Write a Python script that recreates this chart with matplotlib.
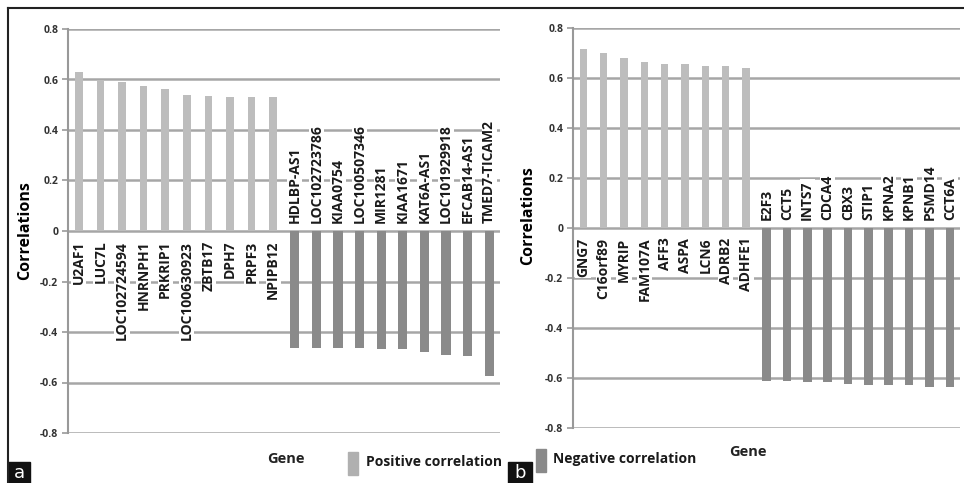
import matplotlib
matplotlib.use("Agg")
from matplotlib import pyplot as plt
from matplotlib.patches import Rectangle
from matplotlib.lines import Line2D

plt.rcParams["font.family"] = ["Open Sans", "DejaVu Sans"]

# Panel a: genes and correlation values
genes_a = [
    "U2AF1", "LUC7L", "LOC102724594", "HNRNPH1", "PRKRIP1", "LOC100630923",
    "ZBTB17", "DPH7", "PRPF3", "NPIPB12",
    "HDLBP-AS1", "LOC102723786", "KIAA0754", "LOC100507346", "MIR1281",
    "KIAA1671", "KAT6A-AS1", "LOC101929918", "EFCAB14-AS1", "TMED7-TICAM2",
]
corr_a = [
    0.63, 0.598, 0.59, 0.574, 0.561, 0.54, 0.535, 0.531, 0.530, 0.530,
    -0.463, -0.463, -0.463, -0.464, -0.468, -0.468, -0.481, -0.49, -0.495, -0.574,
]

# Panel b: genes and correlation values
genes_b = [
    "GNG7", "C16orf89", "MYRIP", "FAM107A", "AFF3", "ASPA", "LCN6", "ADRB2", "ADHFE1",
    "E2F3", "CCT5", "INTS7", "CDCA4", "CBX3", "STIP1", "KPNA2", "KPNB1", "PSMD14", "CCT6A",
]
corr_b = [
    0.717, 0.699, 0.68, 0.664, 0.654, 0.654, 0.646, 0.646, 0.641,
    -0.611, -0.611, -0.616, -0.616, -0.624, -0.629, -0.629, -0.629, -0.635, -0.635,
]

yticks = [0.8, 0.6, 0.4, 0.2, 0, -0.2, -0.4, -0.6, -0.8]

POS_COLOR = "#bdbdbd"
NEG_COLOR = "#8a8a8a"
GRID_COLOR = "#a6a6a6"

W, H = 964, 483
fig = plt.figure(figsize=(W / 100, H / 100), dpi=100)


def px_axes(x0, y0, x1, y1):
    # axes placed with pixel coordinates measured from the top-left corner
    return fig.add_axes([x0 / W, 1 - y1 / H, (x1 - x0) / W, (y1 - y0) / H])


def draw_panel(ax, genes, values):
    n = len(genes)
    xs = list(range(n))
    for x, v in zip(xs, values):
        if v >= 0:
            ax.bar(x, v, width=0.36, color=POS_COLOR, zorder=2)
            ax.annotate(genes[x], (x, 0), xytext=(0, -7), textcoords="offset points",
                        rotation=90, ha="center", va="top", fontsize=10,
                        fontweight="bold", color="#1a1a1a", zorder=3,
                        bbox=dict(facecolor="white", edgecolor="none", pad=0.5))
        else:
            ax.bar(x, v, width=0.42, color=NEG_COLOR, zorder=2)
            ax.annotate(genes[x], (x, 0), xytext=(0, 6), textcoords="offset points",
                        rotation=90, ha="center", va="bottom", fontsize=10,
                        fontweight="bold", color="#1a1a1a", zorder=3,
                        bbox=dict(facecolor="white", edgecolor="none", pad=0.5))
    ax.set_xlim(-0.5, n - 0.5)
    ax.set_ylim(-0.8, 0.8)
    ax.set_yticks(yticks)
    ax.set_yticklabels([f"{t:g}" for t in yticks], fontsize=7.5, fontweight="bold",
                       color="#333333")
    ax.set_xticks([])
    ax.yaxis.grid(True, color=GRID_COLOR, linewidth=1.8)
    ax.set_axisbelow(True)
    for side in ["top", "right", "bottom"]:
        ax.spines[side].set_visible(False)
    ax.spines["left"].set_color("#999999")
    ax.spines["left"].set_linewidth(1.5)
    ax.tick_params(axis="y", length=4, width=1.2, color="#999999", pad=3)
    ax.set_ylabel("Correlations", fontsize=11.5, fontweight="bold", labelpad=6)


ax_a = px_axes(68, 29, 500, 433)
draw_panel(ax_a, genes_a, corr_a)
ax_a.yaxis.set_label_coords(-0.08, 0.5)

ax_b = px_axes(573, 28, 960, 428)
draw_panel(ax_b, genes_b, corr_b)
ax_b.yaxis.set_label_coords(-0.095, 0.53)

# x-axis titles
fig.text(286 / W, 1 - 459 / H, "Gene", fontsize=10.5, fontweight="bold",
         ha="center", va="center", color="#222222")
fig.text(748 / W, 1 - 452 / H, "Gene", fontsize=10.5, fontweight="bold",
         ha="center", va="center", color="#222222")

# shared legend
fig.patches.append(Rectangle((348 / W, 1 - 475 / H), 10 / W, 23 / H,
                             transform=fig.transFigure, color="#b0b0b0"))
fig.text(366 / W, 1 - 462 / H, "Positive correlation", fontsize=10,
         fontweight="bold", ha="left", va="center", color="#1a1a1a")
fig.patches.append(Rectangle((536 / W, 1 - 472 / H), 10 / W, 23 / H,
                             transform=fig.transFigure, color=NEG_COLOR))
fig.text(553 / W, 1 - 459 / H, "Negative correlation", fontsize=10,
         fontweight="bold", ha="left", va="center", color="#1a1a1a")

# outer frame lines
fig.add_artist(Line2D([8 / W, 1], [1 - 8 / H, 1 - 8 / H], color="#222222", lw=1.5))
fig.add_artist(Line2D([8 / W, 8 / W], [0, 1 - 8 / H], color="#222222", lw=1.5))

# panel letters
for x0, x1, letter in [(8, 30, "a"), (508, 532, "b")]:
    fig.patches.append(Rectangle((x0 / W, 0), (x1 - x0) / W, 21 / H,
                                 transform=fig.transFigure, color="#111111"))
    fig.text((x0 + x1) / 2 / W, 10 / H, letter, fontsize=13, color="white",
             ha="center", va="center", family="DejaVu Sans")

fig.savefig("out.png", dpi=100)
